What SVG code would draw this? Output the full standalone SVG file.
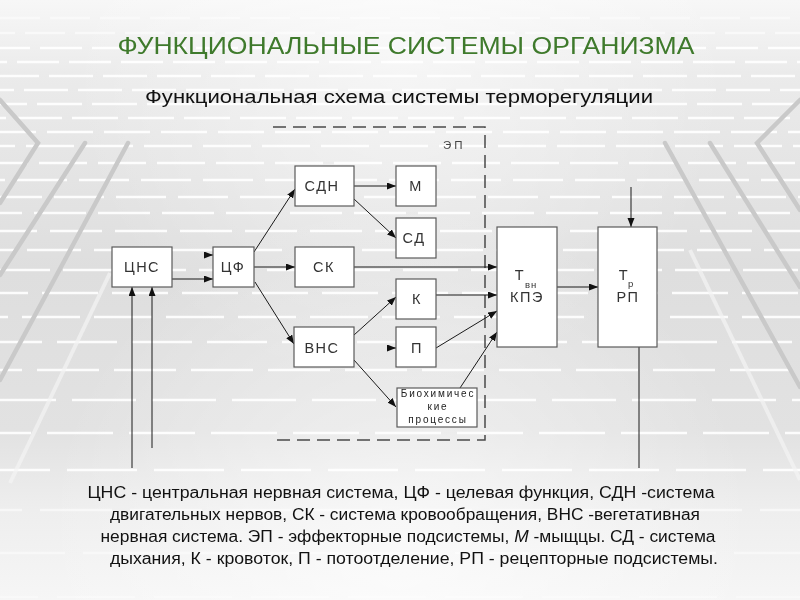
<svg xmlns="http://www.w3.org/2000/svg" width="800" height="600" viewBox="0 0 800 600">
<defs>
  <linearGradient id="bg" x1="0" y1="0" x2="0" y2="1">
    <stop offset="0" stop-color="#f7f7f7"/>
    <stop offset="0.12" stop-color="#ebebeb"/>
    <stop offset="0.45" stop-color="#dedede"/>
    <stop offset="0.72" stop-color="#e2e2e2"/>
    <stop offset="0.85" stop-color="#eeeeee"/>
    <stop offset="1" stop-color="#f6f6f6"/>
  </linearGradient>
  <radialGradient id="glow" cx="400" cy="60" r="330" gradientUnits="userSpaceOnUse">
    <stop offset="0" stop-color="#ffffff" stop-opacity="0.55"/>
    <stop offset="1" stop-color="#ffffff" stop-opacity="0"/>
  </radialGradient>
  <radialGradient id="glow2" cx="400" cy="560" r="360" gradientUnits="userSpaceOnUse">
    <stop offset="0" stop-color="#ffffff" stop-opacity="0.6"/>
    <stop offset="1" stop-color="#ffffff" stop-opacity="0"/>
  </radialGradient>
  <marker id="arr" markerWidth="10" markerHeight="8" refX="9" refY="3.5" orient="auto" markerUnits="userSpaceOnUse">
    <path d="M0,0 L9,3.5 L0,7 z" fill="#111"/>
  </marker>
  <style>
    .bgd { stroke: #ffffff; stroke-width: 2.4; fill: none; }
    .diag { stroke: #c9c9c9; stroke-width: 4.5; fill: none; stroke-linecap: round; }
    .diagw { stroke: #f4f4f4; stroke-width: 4; fill: none; opacity: 0.7; }
    .box { fill: #ffffff; stroke: #5a5a5a; stroke-width: 1.2; }
    .lbl { font-family: "Liberation Sans", Arial, sans-serif; font-size: 14.5px; fill: #333; letter-spacing: 1.5px; text-anchor: middle; }
    .sub { font-family: "Liberation Sans", Arial, sans-serif; font-size: 9.5px; fill: #333; letter-spacing: 1px; }
    .bio { font-family: "Liberation Sans", Arial, sans-serif; font-size: 10px; fill: #222; letter-spacing: 1.8px; text-anchor: middle; }
    .con { stroke: #1a1a1a; stroke-width: 1; fill: none; marker-end: url(#arr); }
    .conp { stroke: #1a1a1a; stroke-width: 1; fill: none; }
    .ep { stroke: #4a4a4a; stroke-width: 1.5; fill: none; stroke-dasharray: 13 7; }
    .title { font-family: "Liberation Sans", Arial, sans-serif; font-size: 24px; fill: #3f7a2c; text-anchor: middle; }
    .subtitle { font-family: "Liberation Sans", Arial, sans-serif; font-size: 19px; fill: #111; text-anchor: middle; }
    .note { font-family: "Liberation Sans", Arial, sans-serif; font-size: 16px; fill: #111; text-anchor: middle; }
  </style>
</defs>

<g id="background">
  <rect x="0" y="0" width="800" height="600" fill="url(#bg)"/>
  <rect x="0" y="0" width="800" height="600" fill="url(#glow)"/>
  <rect x="0" y="0" width="800" height="600" fill="url(#glow2)"/>
  <g opacity="0.9">
    <line class="bgd" x1="0" y1="18" x2="800" y2="18" stroke-dasharray="40 10" stroke-dashoffset="0" opacity="0.5"/>
    <line class="bgd" x1="0" y1="33" x2="800" y2="33" stroke-dasharray="40 10" stroke-dashoffset="25" opacity="0.6"/>
    <line class="bgd" x1="0" y1="48" x2="800" y2="48" stroke-dasharray="42 10" stroke-dashoffset="12"/>
    <line class="bgd" x1="0" y1="62" x2="800" y2="62" stroke-dasharray="42 10" stroke-dashoffset="35"/>
    <line class="bgd" x1="0" y1="76" x2="800" y2="76" stroke-dasharray="44 10" stroke-dashoffset="5"/>
    <line class="bgd" x1="0" y1="90" x2="800" y2="90" stroke-dasharray="44 10" stroke-dashoffset="30"/>
    <line class="bgd" x1="0" y1="104" x2="800" y2="104" stroke-dasharray="45 10" stroke-dashoffset="18"/>
    <line class="bgd" x1="0" y1="118" x2="800" y2="118" stroke-dasharray="46 10" stroke-dashoffset="40"/>
    <line class="bgd" x1="0" y1="132" x2="800" y2="132" stroke-dasharray="46 11" stroke-dashoffset="10"/>
    <line class="bgd" x1="0" y1="146" x2="800" y2="146" stroke-dasharray="48 11" stroke-dashoffset="33"/>
    <line class="bgd" x1="0" y1="163" x2="800" y2="163" stroke-dasharray="48 11" stroke-dashoffset="20"/>
    <line class="bgd" x1="0" y1="180" x2="800" y2="180" stroke-dasharray="50 12" stroke-dashoffset="45"/>
    <line class="bgd" x1="0" y1="197" x2="800" y2="197" stroke-dasharray="50 12" stroke-dashoffset="8"/>
    <line class="bgd" x1="0" y1="213" x2="800" y2="213" stroke-dasharray="52 12" stroke-dashoffset="30"/>
    <line class="bgd" x1="0" y1="231" x2="800" y2="231" stroke-dasharray="52 13" stroke-dashoffset="15"/>
    <line class="bgd" x1="0" y1="250" x2="800" y2="250" stroke-dasharray="54 13" stroke-dashoffset="40"/>
    <line class="bgd" x1="0" y1="270" x2="800" y2="270" stroke-dasharray="55 13" stroke-dashoffset="5"/>
    <line class="bgd" x1="0" y1="293" x2="800" y2="293" stroke-dasharray="56 14" stroke-dashoffset="28"/>
    <line class="bgd" x1="0" y1="317" x2="800" y2="317" stroke-dasharray="58 14" stroke-dashoffset="50"/>
    <line class="bgd" x1="0" y1="342" x2="800" y2="342" stroke-dasharray="60 15" stroke-dashoffset="18"/>
    <line class="bgd" x1="0" y1="370" x2="800" y2="370" stroke-dasharray="62 15" stroke-dashoffset="40"/>
    <line class="bgd" x1="0" y1="400" x2="800" y2="400" stroke-dasharray="64 16" stroke-dashoffset="8"/>
    <line class="bgd" x1="0" y1="433" x2="800" y2="433" stroke-dasharray="66 16" stroke-dashoffset="35"/>
    <line class="bgd" x1="0" y1="470" x2="800" y2="470" stroke-dasharray="70 17" stroke-dashoffset="20"/>
    <line class="bgd" x1="0" y1="510" x2="800" y2="510" stroke-dasharray="72 18" stroke-dashoffset="50" opacity="0.6"/>
    <line class="bgd" x1="0" y1="553" x2="800" y2="553" stroke-dasharray="75 18" stroke-dashoffset="10" opacity="0.5"/>
    <line class="bgd" x1="0" y1="597" x2="800" y2="597" stroke-dasharray="78 19" stroke-dashoffset="40" opacity="0.4"/>
  </g>
  <g>
    <polyline class="diag" points="0,100 38,143 0,203"/>
    <line class="diag" x1="85" y1="143" x2="0" y2="275"/>
    <line class="diag" x1="128" y1="143" x2="0" y2="380"/>
    <line class="diagw" x1="110" y1="273" x2="10" y2="483"/>
    <polyline class="diag" points="800,100 757,143 800,210"/>
    <line class="diag" x1="710" y1="143" x2="800" y2="287"/>
    <line class="diag" x1="665" y1="143" x2="800" y2="387"/>
    <line class="diagw" x1="690" y1="250" x2="800" y2="480"/>
  </g>
</g>

<g id="titles">
  <text class="title" x="406" y="54" textLength="577" lengthAdjust="spacingAndGlyphs">ФУНКЦИОНАЛЬНЫЕ СИСТЕМЫ ОРГАНИЗМА</text>
  <text class="subtitle" x="399" y="103" textLength="508" lengthAdjust="spacingAndGlyphs">Функциональная схема системы терморегуляции</text>
</g>

<g id="ep-frame">
  <path class="ep" d="M273,127 H485 V440 H274"/>
  <text x="443" y="149" font-family="Liberation Sans, Arial, sans-serif" font-size="11.5" fill="#444" letter-spacing="3">ЭП</text>
</g>

<g id="connectors">
  <path class="con" d="M172,279 H213"/>
  <path class="con" d="M204,255 H213"/>
  <path class="con" d="M254,252 L295,189"/>
  <path class="con" d="M254,267 H295"/>
  <path class="con" d="M255,282 L294,344"/>
  <path class="con" d="M354,186 H396"/>
  <path class="con" d="M354,199 L396,238"/>
  <path class="con" d="M354,267 H497"/>
  <path class="con" d="M436,295 H497"/>
  <path class="con" d="M354,335 L396,297"/>
  <path class="con" d="M387,348 H396"/>
  <path class="con" d="M354,360 L396,407"/>
  <path class="con" d="M436,348 L497,311"/>
  <path class="con" d="M460,388 L497,332"/>
  <path class="con" d="M557,287 H598"/>
  <path class="con" d="M631,187 V227"/>
  <path class="conp" d="M639,347 V468"/>
  <path class="con" d="M132,468 V287"/>
  <path class="con" d="M152,448 V287"/>
</g>

<g id="cns">
  <rect class="box" x="112" y="247" width="60" height="40"/>
  <text class="lbl" x="142" y="272">ЦНС</text>
</g>
<g id="cf">
  <rect class="box" x="213" y="247" width="41" height="40"/>
  <text class="lbl" x="233" y="272">ЦФ</text>
</g>
<g id="sdn">
  <rect class="box" x="295" y="166" width="59" height="40"/>
  <text class="lbl" x="322" y="191">СДН</text>
</g>
<g id="sk">
  <rect class="box" x="295" y="247" width="59" height="40"/>
  <text class="lbl" x="324" y="272">СК</text>
</g>
<g id="vns">
  <rect class="box" x="294" y="327" width="60" height="40"/>
  <text class="lbl" x="322" y="353">ВНС</text>
</g>
<g id="m">
  <rect class="box" x="396" y="166" width="40" height="40"/>
  <text class="lbl" x="416" y="191">М</text>
</g>
<g id="sd">
  <rect class="box" x="396" y="218" width="40" height="40"/>
  <text class="lbl" x="414" y="243">СД</text>
</g>
<g id="k">
  <rect class="box" x="396" y="279" width="40" height="40"/>
  <text class="lbl" x="417" y="304">К</text>
</g>
<g id="p">
  <rect class="box" x="396" y="327" width="40" height="40"/>
  <text class="lbl" x="417" y="353">П</text>
</g>
<g id="bio">
  <rect class="box" x="397" y="388" width="80" height="39"/>
  <text class="bio" x="438" y="397">Биохимичес</text>
  <text class="bio" x="438" y="410">кие</text>
  <text class="bio" x="438" y="423">процессы</text>
</g>
<g id="kpe">
  <rect class="box" x="497" y="227" width="60" height="120"/>
  <text class="lbl" x="520" y="280">Т</text>
  <text class="sub" x="525" y="288">вн</text>
  <text class="lbl" x="527" y="302">КПЭ</text>
</g>
<g id="rp">
  <rect class="box" x="598" y="227" width="59" height="120"/>
  <text class="lbl" x="624" y="280">Т</text>
  <text class="sub" x="628" y="287">р</text>
  <text class="lbl" x="628" y="302">РП</text>
</g>

<g id="legend">
  <text class="note" x="401" y="498" textLength="627" lengthAdjust="spacingAndGlyphs">ЦНС - центральная нервная система, ЦФ - целевая функция, СДН -система</text>
  <text class="note" x="405" y="520" textLength="590" lengthAdjust="spacingAndGlyphs">двигательных нервов, СК - система кровообращения, ВНС -вегетативная</text>
  <text class="note" x="408" y="542" textLength="615" lengthAdjust="spacingAndGlyphs">нервная система. ЭП - эффекторные подсистемы, <tspan font-style="italic">М</tspan> -мыщцы. СД - система</text>
  <text class="note" x="414" y="564" textLength="608" lengthAdjust="spacingAndGlyphs">дыхания, К - кровоток, П - потоотделение, РП - рецепторные подсистемы.</text>
</g>
</svg>
